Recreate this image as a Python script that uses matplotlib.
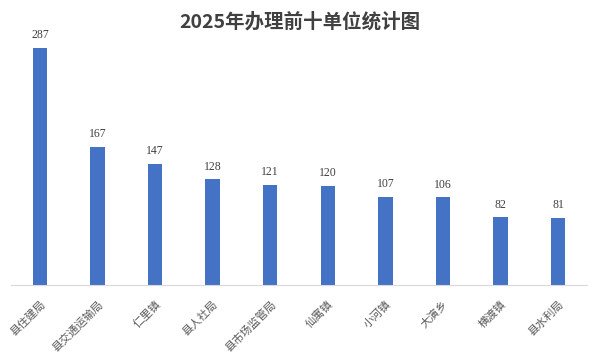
import matplotlib
matplotlib.use("Agg")
import matplotlib.pyplot as plt

categories = ["县住建局", "县交通运输局", "仁里镇", "县人社局", "县市场监管局",
              "仙寓镇", "小河镇", "大演乡", "横渡镇", "县水利局"]
values = [287, 167, 147, 128, 121, 120, 107, 106, 82, 81]

plt.rcParams['font.family'] = ['Noto Sans CJK SC', 'DejaVu Sans']

fig = plt.figure(figsize=(6, 3.63), dpi=100)
ax = fig.add_axes([11.2/600, 1 - 285/363, (586.8-11.2)/600, 265/363])
x = range(len(categories))
ax.bar(x, values, width=0.25, color="#4472C4")
ax.set_xlim(-0.5, len(categories) - 0.5)
ax.set_ylim(0, 265/0.826)
for s in ["top", "right", "left"]:
    ax.spines[s].set_visible(False)
ax.spines["bottom"].set_color("#d9d9d9")
ax.set_yticks([])
ax.set_xticks(list(x))
ax.set_xticklabels(categories, rotation=45, ha="right", va="top",
                   rotation_mode="anchor", fontsize=8, color="#595959")
ax.tick_params(axis="x", length=0, pad=10)
for xi, v in zip(x, values):
    ax.text(xi, v + 8, str(v), ha="center", va="bottom", fontsize=8.5,
            color="#404040", family=["Liberation Serif"])
fig.text(0.5, 1 - 22/363, "2025年办理前十单位统计图", ha="center", va="center",
         fontsize=14, fontweight="bold", color="#404040")
fig.savefig("out.png", dpi=100, facecolor="white")
